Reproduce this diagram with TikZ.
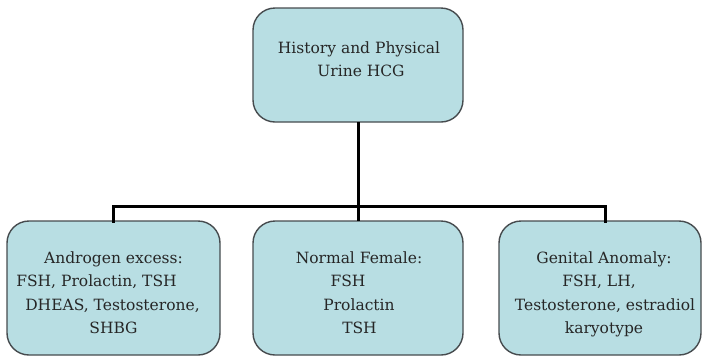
\documentclass[tikz,border=0pt]{standalone}
\usepackage{fontspec}
\newfontfamily\boxfont{DejaVu Serif}
\definecolor{boxfill}{RGB}{184,222,227}
\definecolor{boxline}{RGB}{70,75,78}
\begin{document}
\begin{tikzpicture}[x=1pt,y=-1pt,
  box/.style={draw=boxline,line width=1.4pt,fill=boxfill,rounded corners=22pt},
  txt/.style={anchor=base,inner sep=0pt,font=\boxfont\fontsize{15.5}{23}\selectfont,text=black!85},
  conn/.style={line width=3pt,black}]
\useasboundingbox (0,0) rectangle (704,357);
% boxes
\draw[box] (253,8) rectangle (463,122);
\coordinate (topS) at (358,122);
\draw[box] (7,221) rectangle (220,355);
\draw[box] (253,221) rectangle (463,355);
\draw[box] (499,221) rectangle (701,355);
\coordinate (lN) at (113,221);
\coordinate (mN) at (358,221);
\coordinate (rN) at (605,221);
\coordinate (bus) at (358,206);
% connectors
\draw[conn] (topS) -- (bus);
\draw[conn,line cap=rect] (lN) |- (bus) -| (rN);
\draw[conn] (bus) -- (mN);
% texts
\node[txt] (t1) at (359,53) {History and Physical};
\node[txt] (t2) at (361,76) {Urine HCG};
\node[txt] (l1) at (113.5,263) {Androgen excess:};
\node[txt] (l2) at (96.5,286.5) {FSH, Prolactin, TSH};
\node[txt] (l3) at (112.5,310) {DHEAS, Testosterone,};
\node[txt] (l4) at (113.5,333.5) {SHBG};
\node[txt] (m1) at (359,263) {Normal Female:};
\node[txt] (m2) at (348,286.5) {FSH};
\node[txt] (m3) at (359,310) {Prolactin};
\node[txt] (m4) at (359.5,333.5) {TSH};
\node[txt] (r1) at (604,263) {Genital Anomaly:};
\node[txt] (r2) at (599,286.5) {FSH, LH,};
\node[txt] (r3) at (605,310) {Testosterone, estradiol};
\node[txt] (r4) at (604,333.5) {karyotype};
\end{tikzpicture}
\end{document}
